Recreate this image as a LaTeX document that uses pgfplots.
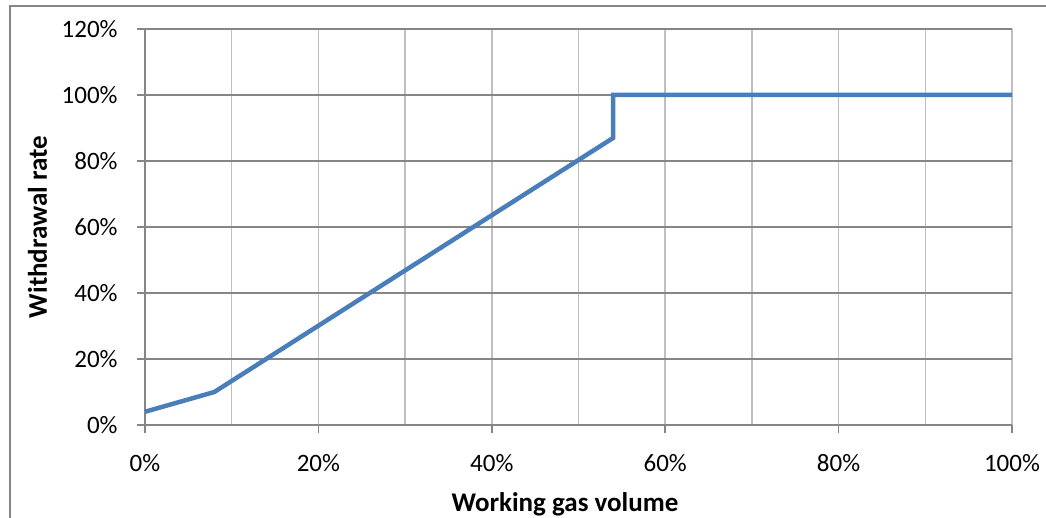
\documentclass[border=0pt]{standalone}
\usepackage{fontspec}
\setmainfont{Carlito}
\usepackage{pgfplots}
\pgfplotsset{compat=1.18}
\definecolor{serieblue}{HTML}{4A7EBB}
\definecolor{darkgrid}{HTML}{868686}
\definecolor{lightgrid}{HTML}{BFBFBF}

\begin{document}
\begin{tikzpicture}
% outer chart frame (cut off at the right and bottom)
\draw[darkgrid, line width=0.8pt] (5pt,-5pt) rectangle (530pt,256.1pt);
% title, mostly outside the picture
\node[anchor=base east, inner sep=0pt, font=\fontsize{14.5}{16}\selectfont\bfseries] at (219pt,261.5pt) {(high)};
\begin{axis}[
    at={(72.5pt,46.5pt)}, anchor=south west,
    scale only axis,
    width=433.5pt, height=198pt,
    xmin=0, xmax=100, ymin=0, ymax=120,
    axis x line*=bottom, axis y line*=left,
    axis line style={darkgrid, line width=0.8pt, -},
    xtick={0,20,...,100}, ytick={0,20,...,120},
    minor xtick={10,30,...,90},
    xticklabels={0\%,20\%,40\%,60\%,80\%,100\%},
    yticklabels={0\%,20\%,40\%,60\%,80\%,100\%,120\%},
    tick align=outside,
    major tick length=4pt, minor tick length=0pt,
    tick style={darkgrid, line width=0.8pt},
    xmajorgrids, xminorgrids, ymajorgrids,
    x grid style={lightgrid, line width=0.8pt},
    minor x grid style={lightgrid, line width=0.8pt},
    y grid style={darkgrid, line width=0.8pt},
    ticklabel style={font=\fontsize{12.5}{14}\selectfont, inner sep=0pt},
    xticklabel style={anchor=north, yshift=-10.5pt},
    yticklabel style={anchor=east, xshift=-9.5pt},
    xlabel={Working gas volume},
    ylabel={Withdrawal rate},
    label style={font=\fontsize{13.5}{15}\selectfont\bfseries},
    xlabel style={at={(axis description cs:0.4844,0)}, anchor=center, yshift=-39.5pt},
    ylabel style={at={(axis description cs:0,0.5)}, anchor=center, yshift=53.75pt},
    clip=false,
]
\addplot[serieblue, line width=2.25pt, line join=miter] coordinates {
    (0,4) (8,10) (54,87) (54,100) (100,100)
};
\end{axis}
\pgfresetboundingbox
\path[use as bounding box] (0,0) rectangle (523pt,259pt);
\end{tikzpicture}
\end{document}
